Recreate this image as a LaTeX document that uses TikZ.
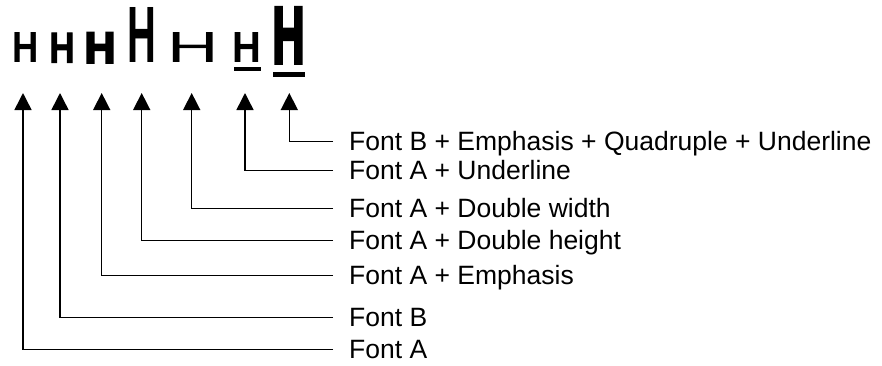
\documentclass[tikz,border=0pt]{standalone}
\usepackage{fontspec}
\usepackage{graphicx}
\setmainfont{Liberation Sans}
\newfontfamily\glyphreg{Liberation Sans}
\newfontfamily\glyphbold{Liberation Sans Bold}
\newfontfamily\glyphheavy[FakeBold=2]{Liberation Sans Bold}
\newfontfamily\glyphblack[FakeBold=5]{Liberation Sans Bold}
\usetikzlibrary{arrows.meta}

\begin{document}
\begin{tikzpicture}[x=1pt, y=-1pt,
    glyph/.style={anchor=south, inner sep=0pt},
    lab/.style={anchor=west, inner sep=0pt, text height=18.2pt, text depth=0pt,
      font=\fontsize{26.5pt}{30pt}\selectfont},
    conn/.style={line width=1.5pt, -{Triangle[width=17pt,length=17pt]}}]
  \useasboundingbox (0,0) rectangle (882,365);
  \node[glyph] (hA) at (25.5,63) {\resizebox{26.3pt}{30pt}{\glyphbold H}};
  \node[glyph] (hB) at (62,63) {\resizebox{25.1pt}{30pt}{\glyphheavy H}};
  \node[glyph] (hEm) at (100,63) {\resizebox{31pt}{30pt}{\glyphblack H}};
  \node[glyph] (hDh) at (141.5,63) {\resizebox{28.8pt}{55pt}{\glyphbold H}};
  \node[glyph] (hDw) at (193,63) {\resizebox{51.4pt}{30pt}{\glyphreg H}};
  \node[glyph] (hUl) at (246.5,63) {\resizebox{28.8pt}{30pt}{\glyphbold H}};
  \node[glyph] (hQu) at (288.5,63) {\resizebox{32pt}{55pt}{\glyphblack H}};
  \fill (234,67) rectangle (261,71);
  \fill (273,72) rectangle (305,77);
  \coordinate (tA) at (23,93);
  \coordinate (tB) at (60,93);
  \coordinate (tEm) at (101.7,93);
  \coordinate (tDh) at (141.7,93);
  \coordinate (tDw) at (191.7,93);
  \coordinate (tUl) at (245,93);
  \coordinate (tQu) at (289.3,93);
  \node[lab] (lQu) at (349,141.7) {Font B + Emphasis + Quadruple + Underline};
  \node[lab] (lUl) at (349,170.7) {Font A + Underline};
  \node[lab] (lDw) at (349,208.3) {Font A + Double width};
  \node[lab] (lDh) at (349,240.7) {Font A + Double height};
  \node[lab] (lEm) at (349,275.7) {Font A + Emphasis};
  \node[lab] (lB) at (349,317.7) {Font B};
  \node[lab] (lA) at (349,349.3) {Font A};
  \draw[conn] ([xshift=-16pt]lQu.west) -| (tQu);
  \draw[conn] ([xshift=-16pt]lUl.west) -| (tUl);
  \draw[conn] ([xshift=-16pt]lDw.west) -| (tDw);
  \draw[conn] ([xshift=-16pt]lDh.west) -| (tDh);
  \draw[conn] ([xshift=-16pt]lEm.west) -| (tEm);
  \draw[conn] ([xshift=-16pt]lB.west) -| (tB);
  \draw[conn] ([xshift=-16pt]lA.west) -| (tA);
\end{tikzpicture}
\end{document}
